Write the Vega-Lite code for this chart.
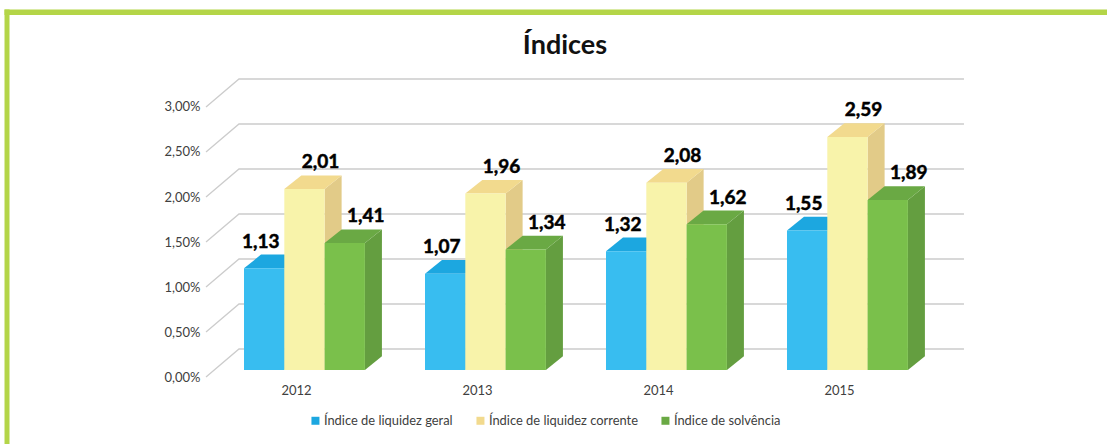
{
"$schema":"https://vega.github.io/schema/vega-lite/v6.json",
"width":1107,"height":444,"autosize":{"type":"none"},"padding":0,"background":"#ffffff",
"title":{"text":"Índices","anchor":"middle","offset":-60,"dx":11.5,"font":"Lato","fontSize":27,"fontWeight":"bold","color":"#111111"},
"config":{"view":{"stroke":null}},
"data":{"values":[
{"ano":2012,"serie":"Índice de liquidez geral","valor":1.13},
{"ano":2012,"serie":"Índice de liquidez corrente","valor":2.01},
{"ano":2012,"serie":"Índice de solvência","valor":1.41},
{"ano":2013,"serie":"Índice de liquidez geral","valor":1.07},
{"ano":2013,"serie":"Índice de liquidez corrente","valor":1.96},
{"ano":2013,"serie":"Índice de solvência","valor":1.34},
{"ano":2014,"serie":"Índice de liquidez geral","valor":1.32},
{"ano":2014,"serie":"Índice de liquidez corrente","valor":2.08},
{"ano":2014,"serie":"Índice de solvência","valor":1.62},
{"ano":2015,"serie":"Índice de liquidez geral","valor":1.55},
{"ano":2015,"serie":"Índice de liquidez corrente","valor":2.59},
{"ano":2015,"serie":"Índice de solvência","valor":1.89}
]},
"transform":[
{"calculate":"indexof(['Índice de liquidez geral','Índice de liquidez corrente','Índice de solvência'],datum.serie)","as":"i"},
{"calculate":"datum.ano-0.2873+datum.i*0.2227","as":"x0"},
{"calculate":"datum.x0+0.2227","as":"x1"}
],
"layer":[
{"data":{"values":[{"peca":"topo"}]},"mark":{"type":"rect","color":"#B4D548"},
 "encoding":{"x":{"datum":2010.3895,"type":"quantitative","scale":{"domain":[2010.3646,2016.4807],"nice":false,"zero":false},"axis":{"title":null,"values":[2012,2013,2014,2015],"format":"d","orient":"bottom","offset":-60,"labelPadding":0,"domain":false,"ticks":false,"grid":false,"labelFont":"Lato","labelFontSize":13,"labelColor":"#404040","labelBaseline":"top","labelOverlap":false,"labelBound":false,"labelFlush":false}},
 "x2":{"datum":2016.4807},
 "y":{"datum":4.0056,"type":"quantitative","scale":{"domain":[-0.8222,4.1111],"nice":false,"zero":false},"axis":{"title":null,"values":[0,0.5,1,1.5,2,2.5,3],"labelExpr":"replace(format(datum.value,'.2f'),'.',',')+'%'","orient":"left","offset":-200,"labelPadding":0,"labelOffset":7,"domain":false,"ticks":false,"grid":false,"labelFont":"Lato","labelFontSize":13,"labelColor":"#404040","labelOverlap":false,"labelBound":false,"labelFlush":false}},
 "y2":{"datum":3.944}}},
{"data":{"values":[{"peca":"esquerda"}]},"mark":{"type":"rect","color":"#B4D548"},
 "encoding":{"x":{"datum":2010.3895,"type":"quantitative"},"x2":{"datum":2010.4171},"y":{"datum":4.0056,"type":"quantitative"},"y2":{"datum":-0.8222}}},
{"data":{"values":[{"tick":0},{"tick":0.5},{"tick":1},{"tick":1.5},{"tick":2},{"tick":2.5},{"tick":3}]},
 "transform":[
 {"calculate":"[2011.5028,2011.685,2015.6906]","as":"gx"},
 {"calculate":"[datum.tick-0.0778,datum.tick+0.2333,datum.tick+0.2333]","as":"gy"},
 {"flatten":["gx","gy"]}],
 "mark":{"type":"line","color":"#cccccc","strokeWidth":1.3},
 "encoding":{"x":{"field":"gx","type":"quantitative"},"y":{"field":"gy","type":"quantitative"},"detail":{"field":"tick"}}},
{"transform":[{"calculate":"[0,1]","as":"s"},{"flatten":["s"]},{"calculate":"datum.x1+datum.s*0.0939","as":"sx"},{"calculate":"datum.s*0.152","as":"sy0"},{"calculate":"datum.valor+datum.s*0.152","as":"sy1"}],
 "mark":{"type":"area"},
 "encoding":{"x":{"field":"sx","type":"quantitative"},"y":{"field":"sy1","type":"quantitative"},"y2":{"field":"sy0"},"detail":{"field":"ano"},
 "color":{"field":"serie","type":"nominal","legend":null,"scale":{"domain":["Índice de liquidez geral","Índice de liquidez corrente","Índice de solvência"],"range":["#1B9FD8","#E2CB88","#649E40"]}}}},
{"transform":[{"calculate":"[0,1]","as":"s"},{"flatten":["s"]},{"calculate":"datum.x0+datum.s*0.0939","as":"tx0"},{"calculate":"datum.x1+datum.s*0.0939","as":"tx1"},{"calculate":"datum.valor+datum.s*0.152","as":"ty"}],
 "mark":{"type":"area","orient":"horizontal"},
 "encoding":{"y":{"field":"ty","type":"quantitative"},"x":{"field":"tx0","type":"quantitative"},"x2":{"field":"tx1"},"detail":{"field":"ano"},
 "color":{"field":"serie","type":"nominal","scale":{"domain":["Índice de liquidez geral","Índice de liquidez corrente","Índice de solvência"],"range":["#1CA7E0","#F2DA8E","#6AA944"]},
 "legend":{"title":null,"orient":"none","legendX":309,"legendY":414,"direction":"horizontal","columns":3,"columnPadding":21,"symbolType":"square","symbolSize":64,"symbolStrokeWidth":0,"labelOffset":2,"labelFont":"Lato","labelFontSize":12.9,"labelColor":"#404040","labelLimit":300}}}},
{"mark":{"type":"rect"},
 "encoding":{"x":{"field":"x0","type":"quantitative"},"x2":{"field":"x1"},"y":{"field":"valor","type":"quantitative"},"y2":{"datum":0},
 "color":{"field":"serie","type":"nominal","legend":null,"scale":{"domain":["Índice de liquidez geral","Índice de liquidez corrente","Índice de solvência"],"range":["#38BDF0","#F8F3AA","#7AC04B"]}}}},
{"transform":[{"calculate":"datum.x0+0.11135+[-0.0193,0.0884,0.116][datum.i]","as":"lx"},{"calculate":"datum.valor+0.23","as":"ly"},{"calculate":"replace(format(datum.valor,'.2f'),'.',',')","as":"rotulo"}],
 "mark":{"type":"text","font":"Lato","fontSize":19,"fontWeight":"bold","color":"#000000","stroke":"#000000","strokeWidth":0.5,"align":"center","baseline":"alphabetic"},
 "encoding":{"x":{"field":"lx","type":"quantitative"},"y":{"field":"ly","type":"quantitative"},"text":{"field":"rotulo"}}}
],
"resolve":{"scale":{"color":"independent"}}
}
